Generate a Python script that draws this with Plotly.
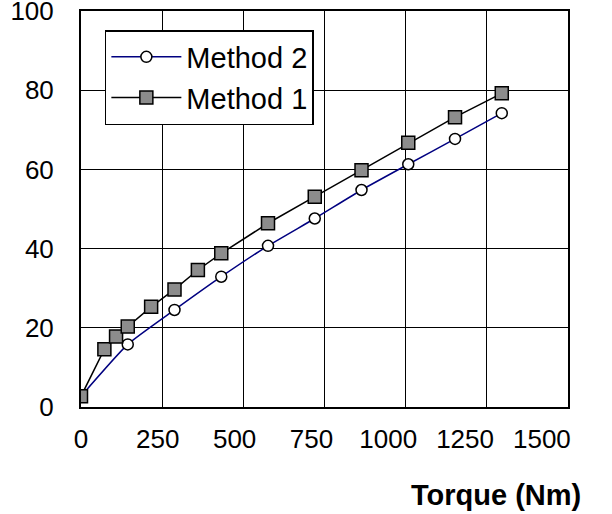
import plotly.graph_objects as go

# Data
m1_torque = [0, 72, 108, 144, 216, 288, 360, 432, 576, 720, 864, 1008, 1152, 1296]
m1_value = [2.7, 14.6, 17.8, 20.3, 25.3, 29.7, 34.6, 38.8, 46.4, 53.1, 59.8, 66.7, 73.2, 79.2]
m2_torque = [0, 144, 288, 432, 576, 720, 864, 1008, 1152, 1296]
m2_value = [2.7, 15.8, 24.5, 32.9, 40.7, 47.6, 54.8, 61.3, 67.7, 74.2]
x_ticks = [0, 250, 500, 750, 1000, 1250, 1500]
y_ticks = [0, 20, 40, 60, 80, 100]

FONT = "Liberation Sans, Arial, sans-serif"

fig = go.Figure()
fig.add_trace(go.Scatter(
    x=m2_torque, y=m2_value, name="Method 2", mode="lines+markers",
    line=dict(color="#000080", width=1.5, shape="spline", smoothing=0.5),
    marker=dict(symbol="circle", size=11, color="white",
                line=dict(color="black", width=1.5)),
))
fig.add_trace(go.Scatter(
    x=m1_torque, y=m1_value, name="Method 1", mode="lines+markers",
    line=dict(color="black", width=1.5),
    marker=dict(symbol="square", size=13, color="#8c8c8c",
                line=dict(color="black", width=1.5)),
))

fig.update_layout(
    width=612, height=514,
    margin=dict(l=81, r=44, t=11, b=107, autoexpand=False),
    paper_bgcolor="white", plot_bgcolor="white",
    font=dict(family=FONT, color="black"),
    showlegend=True,
    legend=dict(
        x=0.049, y=0.952, xanchor="left", yanchor="top",
        bgcolor="white", bordercolor="black", borderwidth=1.5,
        font=dict(size=29, family=FONT, color="black"),
        traceorder="normal", itemwidth=70,
    ),
    xaxis=dict(
        range=[0, 1500], tickvals=x_ticks, showticklabels=False,
        showgrid=True, gridcolor="black", gridwidth=1.3,
        showline=True, linecolor="black", linewidth=2, mirror=True,
        zeroline=False, ticks="", automargin=False,
    ),
    xaxis2=dict(
        overlaying="x", anchor="y", side="bottom",
        range=[0, 1585], tickvals=x_ticks,
        ticktext=[str(v) for v in x_ticks],
        showgrid=False, showline=False, zeroline=False, ticks="",
        tickfont=dict(size=26, family=FONT, color="black"),
        ticklabelstandoff=14, ticklabeloverflow="allow", automargin=False,
    ),
    yaxis=dict(
        range=[0, 100], tickvals=y_ticks,
        showgrid=True, gridcolor="black", gridwidth=1.3,
        showline=True, linecolor="black", linewidth=2, mirror=True,
        zeroline=False, ticks="",
        tickfont=dict(size=26, family=FONT, color="black"),
        ticklabelstandoff=20, ticklabeloverflow="allow", automargin=False,
    ),
)

# invisible helper so xaxis2 is rendered
fig.add_trace(go.Scatter(x=[None], y=[None], xaxis="x2", yaxis="y",
                         showlegend=False, hoverinfo="skip"))

fig.add_annotation(
    text="<b>Torque (Nm)</b>", xref="paper", yref="paper",
    x=1, y=0, xanchor="right", yanchor="top", xshift=15, yshift=-70,
    showarrow=False, font=dict(size=29, family=FONT, color="black"),
)

fig.write_html("out.html",
               config={"displayModeBar": False},
               post_script="document.body.style.margin='0';"
                           "document.body.style.overflow='hidden';")
